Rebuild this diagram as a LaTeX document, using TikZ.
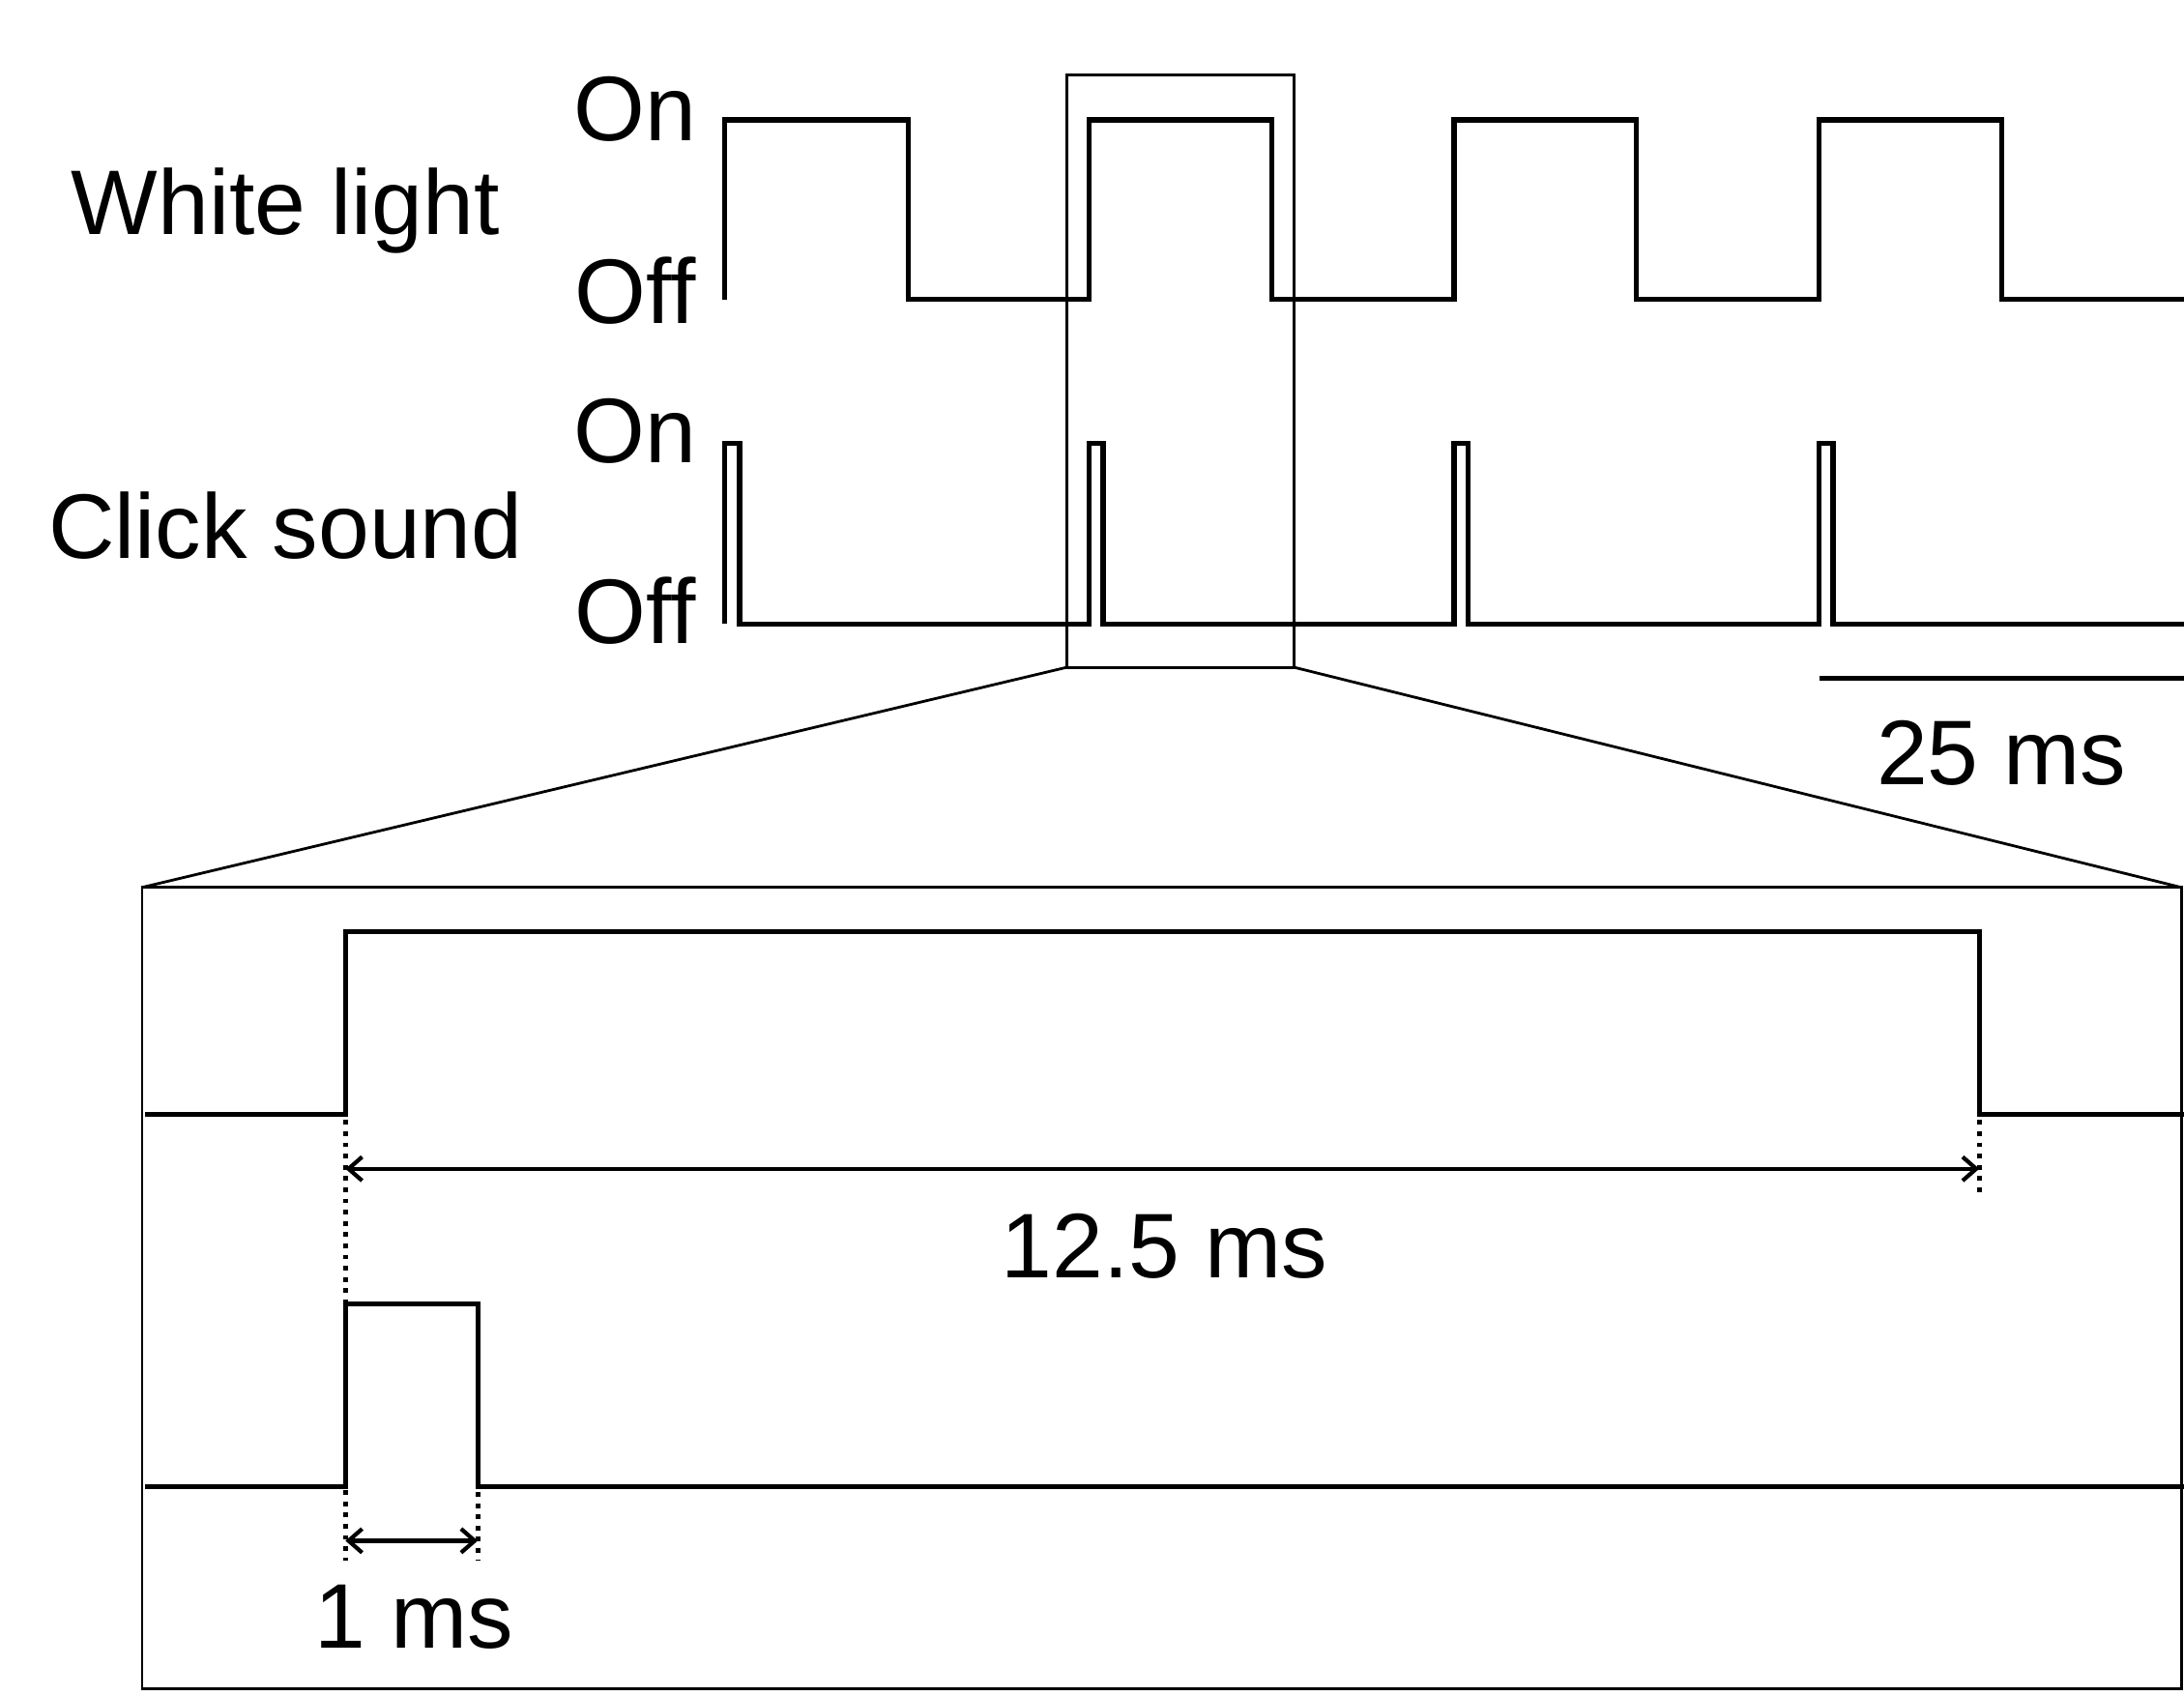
\documentclass[tikz,border=0pt]{standalone}
\usepackage{fontspec}
\setmainfont{Liberation Sans}
\usetikzlibrary{arrows.meta}
\begin{document}
\begin{tikzpicture}[x=0.01441cm,y=-0.01441cm,
    sig/.style={line width=1.5pt},
    frame/.style={line width=0.8pt},
    guide/.style={line width=1.4pt,dash pattern=on 1.4pt off 1.9pt},
    span/.style={line width=1.2pt,
      {Straight Barb[length=4pt,width=7pt]}-{Straight Barb[length=4pt,width=7pt]}},
    lbl/.style={anchor=base,font=\fontsize{27}{32}\selectfont}]
  \useasboundingbox (0,0) rectangle (1568,1217);
  % channel names and levels
  \node[lbl] (white) at (205,168) {White light};
  \node[lbl] (click) at (205,401) {Click sound};
  \node[lbl] (won) at (456,101) {On};
  \node[lbl] (woff) at (456,232) {Off};
  \node[lbl] (con) at (456,332) {On};
  \node[lbl] (coff) at (456,462) {Off};
  % white light
  \draw[sig] (520,215) -- (520,86) -- (652,86) -- (652,215) -- (782,215)
    -- (782,86) -- (913,86) -- (913,215) -- (1044,215) -- (1044,86)
    -- (1175,86) -- (1175,215) -- (1306,215) -- (1306,86) -- (1437,86)
    -- (1437,215) -- (1568,215);
  % click sound
  \draw[sig] (520,448) -- (520,318) -- (531,318) -- (531,448) -- (782,448)
    -- (782,318) -- (792,318) -- (792,448) -- (1044,448) -- (1044,318)
    -- (1054,318) -- (1054,448) -- (1306,448) -- (1306,318) -- (1316,318)
    -- (1316,448) -- (1568,448);
  % scale bar
  \draw[sig] (1306,487) coordinate (bar0) -- (1568,487) coordinate (bar1);
  \node[lbl] (barlbl) at (1437,563) {25 ms};
  % zoom window and enlarged box
  \coordinate (wtl) at (766,54);
  \coordinate (wbr) at (929,479);
  \coordinate (wbl) at (766,479);
  \coordinate (btl) at (102,637);
  \coordinate (btr) at (1566,637);
  \coordinate (bbr) at (1566,1212);
  \draw[frame] (wtl) rectangle (wbr);
  \draw[frame] (wbl) -- (btl);
  \draw[frame] (wbr) -- (btr);
  \draw[frame] (btl) rectangle (bbr);
  % enlarged signals
  \draw[sig] (104,800) -- (248,800) -- (248,669) -- (1421,669) -- (1421,800)
    -- (1568,800);
  \draw[sig] (104,1067) -- (248,1067) -- (248,936) -- (343,936) -- (343,1067)
    -- (1568,1067);
  % durations
  \draw[guide] (248,804) coordinate (g1) -- (248,1120);
  \draw[guide] (1421,804) coordinate (g2) -- (1421,859);
  \draw[guide] (343,1071) coordinate (g3) -- (343,1120);
  \draw[span] (248,839) coordinate (a0) -- (1421,839) coordinate (a1);
  \node[lbl] (long) at (836,917) {12.5 ms};
  \draw[span] (248,1106) coordinate (b0) -- (343,1106) coordinate (b1);
  \node[lbl] (short) at (297,1183) {1 ms};
\end{tikzpicture}
\end{document}
